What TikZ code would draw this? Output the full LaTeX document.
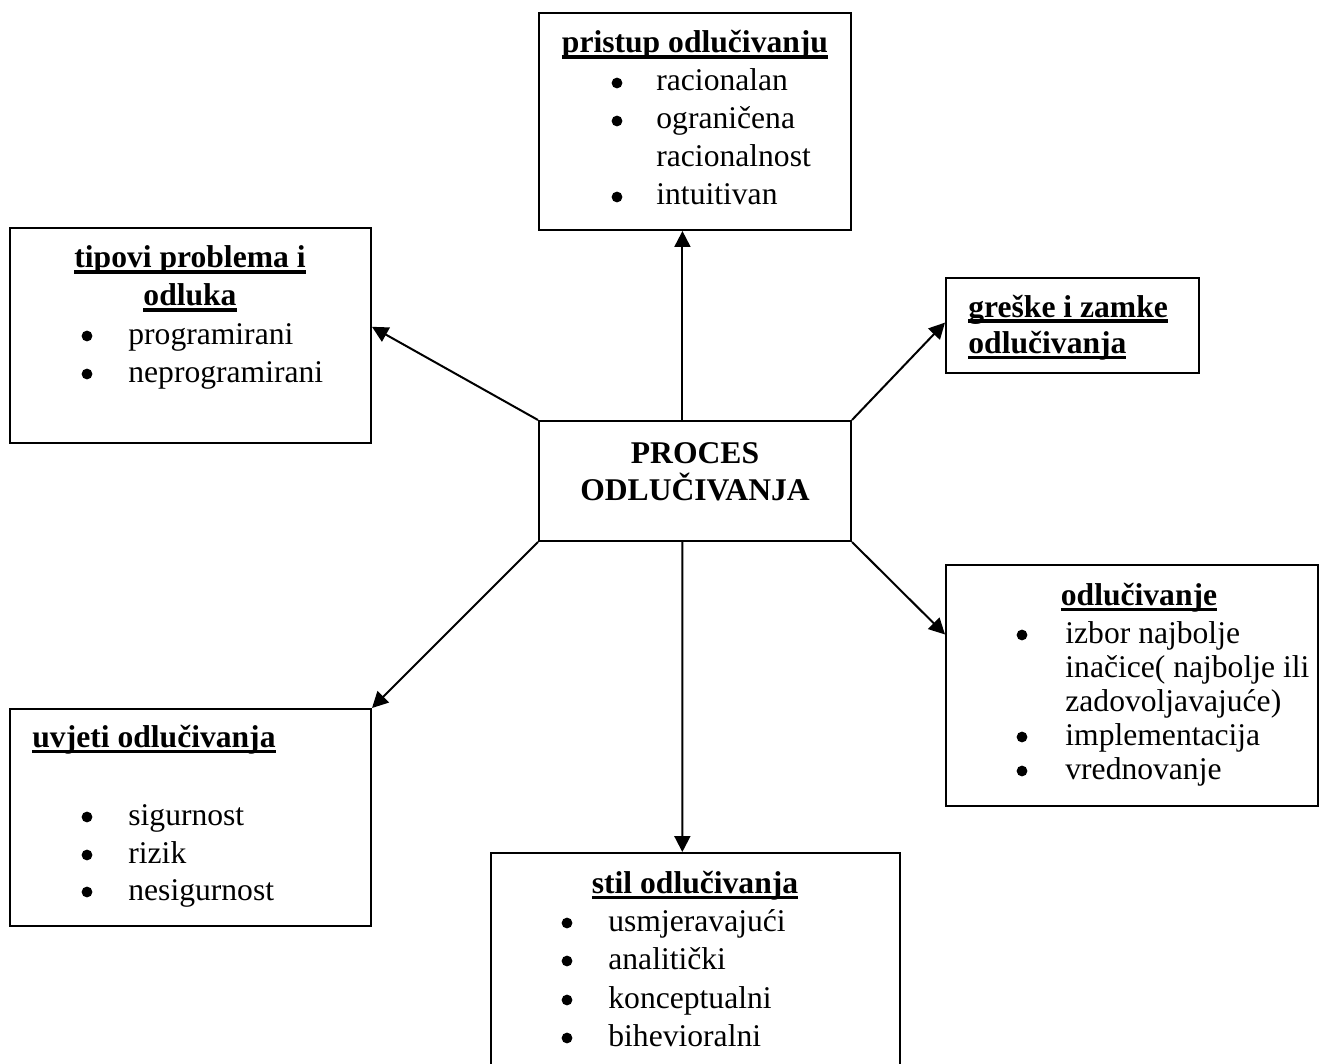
\documentclass[tikz,border=0pt]{standalone}
\usepackage{fontspec}
\setmainfont{Liberation Serif}
\usetikzlibrary{arrows.meta,fit,calc}
\newcommand\fsz{\fontsize{15.8}{19}\selectfont}
\newcommand\ulin[1]{\setbox0\hbox{#1}\rlap{\rule[-2.85pt]{\wd0}{1.6pt}}\box0}
\begin{document}
\begin{tikzpicture}[x=0.5pt,y=-0.5pt,
  box/.style={draw, line width=1pt, inner sep=0pt},
  txt/.style={anchor=base west, inner sep=0pt, font=\fsz},
  bul/.style={circle, fill=black, draw=none, inner sep=0pt, minimum size=5.4pt, yshift=4pt},
  head/.style={anchor=base, inner sep=0pt, font=\fsz\bfseries},
  headl/.style={anchor=base west, inner sep=0pt, font=\fsz\bfseries},
  arr/.style={line width=1pt, -{Triangle[length=8pt,width=8pt]}}]
\clip (0,0) rectangle (1322,1064);
\fill[white] (0,0) rectangle (1322,1064);
% boxes
\node[box, fit={(539,13) (851,230)}] (pristup) {};
\node[box, fit={(10,228) (371,443)}] (tipovi) {};
\node[box, fit={(539,421) (851,541)}] (proces) {};
\node[box, fit={(946,278) (1199,373)}] (greske) {};
\node[box, fit={(946,565) (1318,806)}] (odl) {};
\node[box, fit={(10,709) (371,926)}] (uvjeti) {};
\node[box, fit={(491,853) (900,1090)}] (stil) {};
% pristup
\node[head] (h1) at (695,53) {\ulin{pristup odlučivanju}};
\node[bul] (p1b) at (617,91) {};
\node[txt] (p1) at (656,91) {racionalan};
\node[bul] (p2b) at (617,129) {};
\node[txt] (p2) at (656,129) {ograničena};
\node[txt] (p3) at (656,167) {racionalnost};
\node[bul] (p4b) at (617,205) {};
\node[txt] (p4) at (656,205) {intuitivan};
% tipovi
\node[head] (h2a) at (190,268) {\ulin{tipovi problema i}};
\node[head] (h2b) at (190,306) {\ulin{odluka}};
\node[bul] (t1b) at (87,344) {};
\node[txt] (t1) at (128,344) {programirani};
\node[bul] (t2b) at (87,382) {};
\node[txt] (t2) at (128,382) {neprogramirani};
% proces
\node[head] (c1) at (695,463) {PROCES};
\node[head] (c2) at (695,500) {ODLUČIVANJA};
% greske
\node[headl] (g1) at (968,317) {\ulin{greške i zamke}};
\node[headl] (g2) at (968,353) {\ulin{odlučivanja}};
% odlucivanje
\node[head] (h3) at (1139,605) {\ulin{odlučivanje}};
\node[bul] (o1b) at (1022,643) {};
\node[txt] (o1) at (1065,643) {izbor najbolje};
\node[txt] (o2) at (1065,677) {inačice( najbolje ili};
\node[txt] (o3) at (1065,711) {zadovoljavajuće)};
\node[bul] (o4b) at (1022,745) {};
\node[txt] (o4) at (1065,745) {implementacija};
\node[bul] (o5b) at (1022,779) {};
\node[txt] (o5) at (1065,779) {vrednovanje};
% uvjeti
\node[headl] (h4) at (32,747) {\ulin{uvjeti odlučivanja}};
\node[bul] (u1b) at (87,825) {};
\node[txt] (u1) at (128,825) {sigurnost};
\node[bul] (u2b) at (87,863) {};
\node[txt] (u2) at (128,863) {rizik};
\node[bul] (u3b) at (87,900) {};
\node[txt] (u3) at (128,900) {nesigurnost};
% stil
\node[head] (h5) at (695,893) {\ulin{stil odlučivanja}};
\node[bul] (s1b) at (567,931) {};
\node[txt] (s1) at (608,931) {usmjeravajući};
\node[bul] (s2b) at (567,969) {};
\node[txt] (s2) at (608,969) {analitički};
\node[bul] (s3b) at (567,1008) {};
\node[txt] (s3) at (608,1008) {konceptualni};
\node[bul] (s4b) at (567,1046) {};
\node[txt] (s4) at (608,1046) {bihevioralni};
% arrows
\draw[arr] ($(proces.north west)!0.46!(proces.north east)$) -- ($(pristup.south west)!0.46!(pristup.south east)$);
\draw[arr] (proces.north west) -- ($(tipovi.north east)!0.46!(tipovi.south east)$);
\draw[arr] (proces.north east) -- ($(greske.north west)!0.47!(greske.south west)$);
\draw[arr] (proces.south east) -- ($(odl.north west)!0.29!(odl.south west)$);
\draw[arr] (proces.south west) -- (uvjeti.north east);
\draw[arr] ($(proces.south west)!0.46!(proces.south east)$) -- ($(stil.north west)!0.468!(stil.north east)$);
\end{tikzpicture}
\end{document}
